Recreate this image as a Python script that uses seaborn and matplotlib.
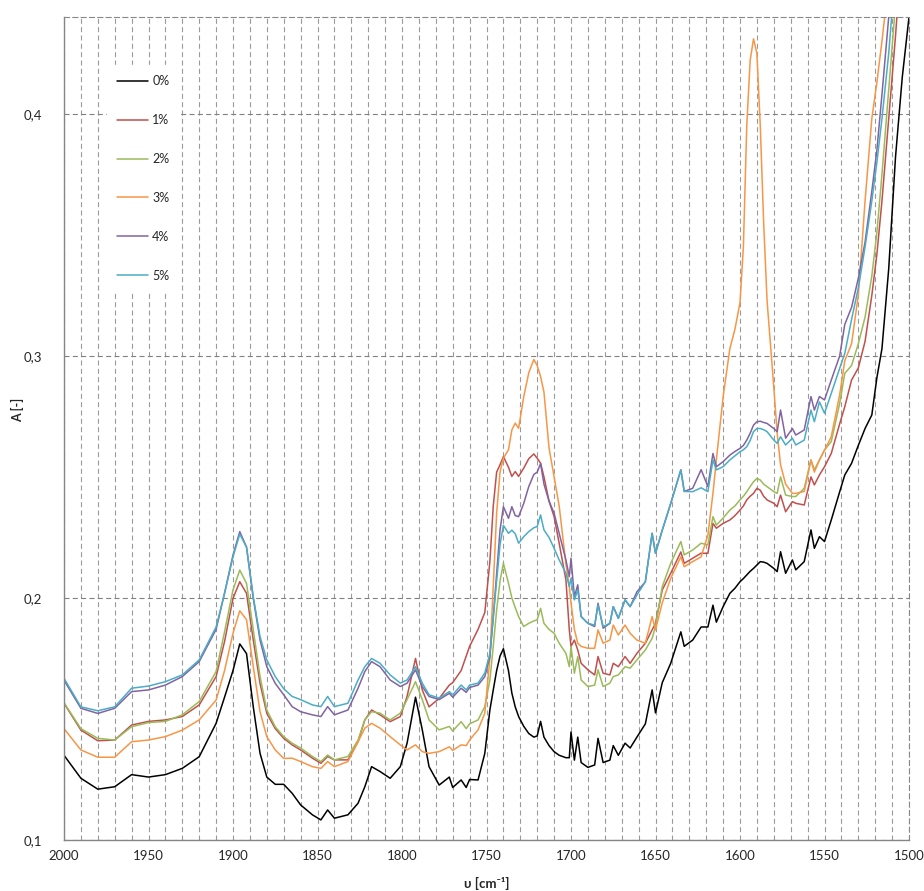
import matplotlib
matplotlib.use("Agg")
import matplotlib.pyplot as plt
import numpy as np
import pandas as pd
import seaborn as sns
from matplotlib.ticker import MultipleLocator, FuncFormatter

# Wavenumber grid [cm-1], descending
wavenumber = [
    2000, 1990, 1980, 1970, 1960, 1950, 1940, 1930, 1920, 1910, 1905, 1900, 1896, 1892, 1888, 1884, 1880, 1875, 1870,
    1865, 1860, 1853, 1848, 1844, 1840, 1832, 1826, 1822, 1818, 1813, 1807, 1801, 1797, 1792, 1788, 1784, 1778, 1772, 1770,
    1765, 1762, 1760, 1755, 1751, 1748, 1746, 1744,
    1742, 1740, 1737, 1735, 1733, 1731, 1728, 1725, 1722, 1720, 1718, 1716, 1713, 1710, 1707, 1703, 1701, 1700,
    1698, 1696, 1694, 1690, 1686, 1684, 1681, 1677, 1675, 1672, 1668, 1665, 1661, 1656, 1652, 1650,
    1646, 1641, 1635, 1633, 1628, 1623, 1619, 1616, 1614, 1610, 1606, 1603, 1600,
    1598, 1596, 1594, 1592, 1590, 1588, 1586, 1584, 1580, 1578, 1576, 1573, 1569, 1567, 1562,
    1558, 1556, 1553, 1550, 1546, 1541, 1538, 1534, 1530, 1526, 1522, 1519, 1516, 1512, 1508, 1504, 1500,
]

# Absorbance A [-] for each filler content
a_0 = [
    0.135, 0.1255, 0.121, 0.122, 0.127, 0.126, 0.127, 0.1296, 0.1344, 0.1482, 0.159, 0.170, 0.181, 0.177, 0.155, 0.1358, 0.126, 0.123, 0.123,
    0.1193, 0.1145, 0.1104, 0.1083, 0.1124, 0.109, 0.1104, 0.1152, 0.122, 0.1303, 0.1283, 0.1255, 0.1303, 0.140, 0.159, 0.1455, 0.1303, 0.1227, 0.126, 0.1217,
    0.1248, 0.1217, 0.125, 0.1248, 0.1358, 0.1537, 0.162, 0.170,
    0.176, 0.179, 0.170, 0.1607, 0.155, 0.151, 0.147, 0.144, 0.1425, 0.143, 0.149, 0.1425, 0.139, 0.1365, 0.135, 0.134, 0.134, 0.1446,
    0.133, 0.1425, 0.132, 0.130, 0.131, 0.142, 0.132, 0.133, 0.139, 0.135, 0.140, 0.138, 0.1425, 0.148, 0.162, 0.1525,
    0.165, 0.173, 0.186, 0.180, 0.1826, 0.188, 0.188, 0.197, 0.190, 0.1964, 0.2019, 0.204, 0.2067,
    0.208, 0.2095, 0.211, 0.2122, 0.2136, 0.215, 0.2148, 0.2143, 0.2122, 0.2109, 0.2191, 0.2102, 0.2157, 0.2116, 0.215,
    0.2281, 0.2205, 0.2253, 0.2233, 0.2322, 0.2439, 0.2508, 0.2556, 0.263, 0.270, 0.2756, 0.291, 0.303, 0.336, 0.382, 0.415, 0.440,
]
a_1 = [
    0.1565, 0.1454, 0.141, 0.1413, 0.1475, 0.149, 0.1496, 0.151, 0.1558, 0.1675, 0.182, 0.1998, 0.2067, 0.2019, 0.1826, 0.1647, 0.1523, 0.146, 0.142,
    0.1393, 0.1372, 0.1338, 0.1317, 0.1345, 0.1331, 0.1331, 0.1406, 0.1496, 0.1537, 0.1517, 0.1489, 0.151, 0.1593, 0.175, 0.162, 0.155, 0.1585, 0.164, 0.165,
    0.170, 0.176, 0.180, 0.187, 0.194, 0.215, 0.238, 0.252,
    0.255, 0.2584, 0.254, 0.2502, 0.2522, 0.2502, 0.2536, 0.2575, 0.2595, 0.2577, 0.2557, 0.250, 0.240, 0.2336, 0.2226, 0.2074, 0.1868, 0.180,
    0.1826, 0.1785, 0.173, 0.1703, 0.1682, 0.1758, 0.1689, 0.1682, 0.173, 0.1716, 0.1758, 0.173, 0.1771, 0.1813, 0.1868, 0.1895,
    0.2033, 0.2102, 0.219, 0.2143, 0.2164, 0.2185, 0.2184, 0.2308, 0.2288, 0.2308, 0.2322, 0.234, 0.2363,
    0.238, 0.2405, 0.242, 0.2432, 0.2453, 0.2445, 0.242, 0.2405, 0.2391, 0.2377, 0.2425, 0.2356, 0.2398, 0.2391, 0.2384,
    0.250, 0.2467, 0.2508, 0.2542, 0.2597, 0.272, 0.279, 0.290, 0.295, 0.306, 0.325, 0.342, 0.364, 0.398, 0.432, 0.470, 0.510,
]
a_2 = [
    0.1567, 0.146, 0.142, 0.1413, 0.1468, 0.1485, 0.149, 0.1517, 0.1572, 0.1696, 0.186, 0.2033, 0.2115, 0.206, 0.1868, 0.1675, 0.1537, 0.1468, 0.1427,
    0.140, 0.138, 0.1345, 0.1324, 0.1351, 0.1331, 0.1345, 0.1413, 0.1496, 0.153, 0.1524, 0.1496, 0.1524, 0.158, 0.1654, 0.158, 0.1496, 0.1455, 0.1469, 0.145,
    0.1489, 0.146, 0.148, 0.1496, 0.1551, 0.1661, 0.180, 0.195,
    0.207, 0.2143, 0.2061, 0.200, 0.196, 0.1923, 0.1882, 0.1895, 0.1905, 0.191, 0.1957, 0.1895, 0.187, 0.1854, 0.1813, 0.1771, 0.1716, 0.180,
    0.1689, 0.1758, 0.1661, 0.1634, 0.164, 0.1703, 0.1634, 0.1648, 0.1675, 0.1682, 0.1716, 0.171, 0.1744, 0.1785, 0.1833, 0.1882,
    0.2047, 0.2143, 0.2233, 0.2178, 0.2198, 0.2226, 0.2219, 0.2336, 0.2301, 0.233, 0.2363, 0.238, 0.2405,
    0.242, 0.2439, 0.246, 0.248, 0.2494, 0.2487, 0.247, 0.246, 0.2439, 0.2432, 0.250, 0.2425, 0.2419, 0.2419, 0.2453,
    0.257, 0.2529, 0.257, 0.2611, 0.2646, 0.2804, 0.2928, 0.296, 0.305, 0.316, 0.333, 0.351, 0.375, 0.410, 0.445, 0.490, 0.530,
]
a_3 = [
    0.146, 0.1372, 0.1342, 0.1342, 0.1406, 0.1413, 0.1427, 0.1454, 0.1496, 0.1578, 0.170, 0.1854, 0.1947, 0.191, 0.1716, 0.153, 0.1427, 0.1372, 0.1337,
    0.1338, 0.1324, 0.1303, 0.1296, 0.1324, 0.1303, 0.1324, 0.1406, 0.1462, 0.1482, 0.1462, 0.1427, 0.1393, 0.1372, 0.1393, 0.1365, 0.1358, 0.1365, 0.1385, 0.137,
    0.1393, 0.139, 0.1413, 0.1455, 0.1524, 0.175, 0.205, 0.235,
    0.252, 0.2577, 0.2612, 0.2694, 0.2722, 0.2701, 0.283, 0.293, 0.2985, 0.296, 0.2915, 0.285, 0.262, 0.250, 0.238, 0.214, 0.2047, 0.198,
    0.187, 0.1813, 0.180, 0.1792, 0.1792, 0.1868, 0.1813, 0.1826, 0.1888, 0.1847, 0.1888, 0.1854, 0.1826, 0.1813, 0.1923, 0.1868,
    0.198, 0.2081, 0.217, 0.2129, 0.215, 0.217, 0.226, 0.2432, 0.257, 0.283, 0.303, 0.311, 0.322,
    0.345, 0.395, 0.422, 0.431, 0.425, 0.395, 0.355, 0.323, 0.287, 0.268, 0.255, 0.247, 0.2432, 0.2432, 0.244,
    0.257, 0.252, 0.257, 0.261, 0.2666, 0.284, 0.298, 0.305, 0.325, 0.364, 0.398, 0.413, 0.430, 0.455, 0.480, 0.510, 0.540,
]
a_4 = [
    0.166, 0.1544, 0.1523, 0.1544, 0.1613, 0.162, 0.164, 0.1675, 0.1737, 0.187, 0.202, 0.2177, 0.2274, 0.221, 0.1998, 0.1826, 0.1716, 0.1647, 0.160,
    0.1551, 0.153, 0.1517, 0.151, 0.1551, 0.1517, 0.1537, 0.1627, 0.1696, 0.1737, 0.1716, 0.1661, 0.1634, 0.1648, 0.1703, 0.1634, 0.1593, 0.158, 0.1606, 0.159,
    0.1627, 0.161, 0.163, 0.164, 0.1675, 0.1757, 0.192, 0.210,
    0.228, 0.2377, 0.2329, 0.2377, 0.234, 0.2336, 0.239, 0.246, 0.251, 0.252, 0.2555, 0.247, 0.240, 0.235, 0.2267, 0.2157, 0.2088, 0.2164,
    0.2005, 0.2054, 0.1923, 0.1895, 0.1882, 0.1978, 0.1875, 0.1895, 0.1964, 0.1916, 0.1992, 0.1964, 0.2025, 0.2067, 0.2267, 0.2185,
    0.228, 0.239, 0.2529, 0.244, 0.2453, 0.253, 0.246, 0.2597, 0.2542, 0.2563, 0.259, 0.2605, 0.2618,
    0.263, 0.2652, 0.268, 0.2714, 0.2728, 0.273, 0.2725, 0.2721, 0.270, 0.2687, 0.2776, 0.266, 0.270, 0.2673, 0.2694,
    0.2832, 0.2776, 0.2832, 0.2818, 0.290, 0.300, 0.313, 0.320, 0.332, 0.347, 0.368, 0.385, 0.408, 0.440, 0.480, 0.520, 0.560,
]
a_5 = [
    0.1668, 0.155, 0.1534, 0.155, 0.1627, 0.1636, 0.1654, 0.1682, 0.1744, 0.188, 0.2019, 0.217, 0.2264, 0.221, 0.2005, 0.184, 0.1744, 0.1675, 0.1625,
    0.1593, 0.158, 0.1558, 0.1551, 0.1593, 0.1551, 0.1565, 0.1661, 0.1716, 0.175, 0.173, 0.1682, 0.1648, 0.1661, 0.1716, 0.1648, 0.160, 0.1586, 0.1613, 0.160,
    0.164, 0.162, 0.164, 0.1648, 0.169, 0.1771, 0.192, 0.207,
    0.222, 0.230, 0.2267, 0.228, 0.2265, 0.2226, 0.2253, 0.2274, 0.229, 0.2295, 0.2343, 0.2281, 0.225, 0.2205, 0.2157, 0.2102, 0.2047, 0.2081,
    0.1992, 0.2033, 0.1923, 0.1895, 0.1888, 0.197, 0.1882, 0.1895, 0.1964, 0.1916, 0.1992, 0.1964, 0.2012, 0.2067, 0.2267, 0.2185,
    0.228, 0.239, 0.2529, 0.244, 0.2439, 0.2455, 0.2439, 0.257, 0.2529, 0.2542, 0.257, 0.2587, 0.2604,
    0.2612, 0.2625, 0.265, 0.2687, 0.270, 0.270, 0.2695, 0.2687, 0.2652, 0.2639, 0.2666, 0.2632, 0.266, 0.2632, 0.2652,
    0.2776, 0.2728, 0.281, 0.2763, 0.2845, 0.2949, 0.301, 0.315, 0.328, 0.345, 0.364, 0.380, 0.398, 0.425, 0.460, 0.500, 0.540,
]

series_labels = ["0%", "1%", "2%", "3%", "4%", "5%"]
series_colors = ["#000000", "#C0504D", "#9BBB59", "#F79646", "#8064A2", "#4BACC6"]

sns.set_style("white")
plt.rcParams["font.family"] = ["Lato", "DejaVu Sans"]

wide = pd.DataFrame({"wavenumber": wavenumber})
for lab, vals in zip(series_labels, [a_0, a_1, a_2, a_3, a_4, a_5]):
    wide[lab] = vals
data = wide.melt(id_vars="wavenumber", var_name="sample", value_name="A")

fig = plt.figure(figsize=(9.24, 8.91), dpi=100)
ax = fig.add_axes([64 / 924, 51 / 891, 845 / 924, 823 / 891])

sns.lineplot(data=data, x="wavenumber", y="A", hue="sample", hue_order=series_labels,
             palette=series_colors, estimator=None, sort=False, linewidth=1.1, ax=ax)

ax.set_xlim(2000, 1500)
ax.set_ylim(0.1, 0.44)

# grid: every 10 cm-1 vertically, every 0.1 horizontally
ax.xaxis.set_major_locator(MultipleLocator(50))
ax.xaxis.set_minor_locator(MultipleLocator(10))
ax.set_yticks([0.1, 0.2, 0.3, 0.4])
ax.yaxis.set_major_formatter(FuncFormatter(lambda v, p: f"{v:.1f}".replace(".", ",")))
ax.xaxis.set_major_formatter(FuncFormatter(lambda v, p: f"{v:.0f}"))
ax.set_axisbelow(True)
dash = (0, (4.5, 3))
ax.grid(which="both", axis="x", color="#9a9a9a", linestyle=dash, linewidth=0.8)
ax.grid(which="major", axis="y", color="#808080", linestyle=dash, linewidth=0.8)

for side in ("left", "bottom"):
    ax.spines[side].set_color("#868686")
    ax.spines[side].set_linewidth(1.0)
for side in ("top", "right"):
    ax.spines[side].set_color("#888888")
    ax.spines[side].set_linestyle(dash)
    ax.spines[side].set_linewidth(0.8)

ax.tick_params(axis="x", which="major", direction="inout", length=7, width=0.8, color="#868686",
               labelsize=9.5, pad=4)
ax.tick_params(axis="x", which="minor", direction="in", length=3.5, width=0.8, color="#868686")
ax.tick_params(axis="y", which="major", length=0, labelsize=9.5, pad=16)

ax.set_xlabel("υ [cm⁻¹]", fontsize=9.5, fontweight="bold")
ax.set_ylabel("A [-]", fontsize=9, fontweight="bold")
ax.xaxis.set_label_coords(0.5, -0.045)
ax.yaxis.set_label_coords(-0.047, 0.522)

handles, labels = ax.get_legend_handles_labels()
leg = ax.legend(handles, labels, loc="upper left", bbox_to_anchor=(0.043, 0.949),
                fontsize=9, handlelength=2.55, handletextpad=0.3, labelspacing=2.15,
                frameon=True, framealpha=1, facecolor="white", edgecolor="white",
                fancybox=False, borderpad=0.8)

fig.savefig("out.png", dpi=100)
